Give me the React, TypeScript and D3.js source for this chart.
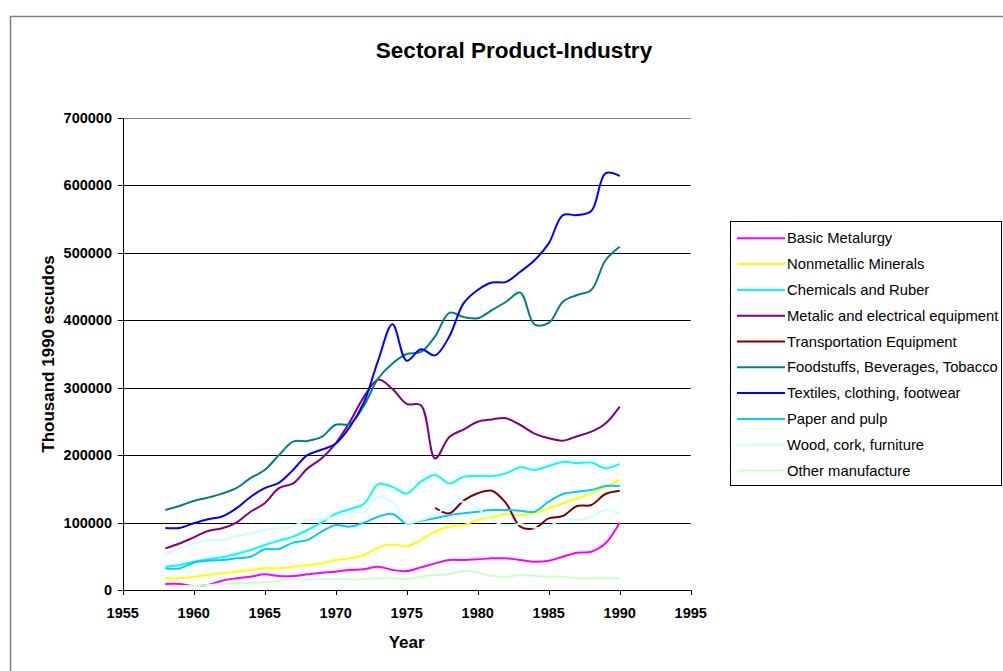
import React from "react";
import * as d3 from "d3";

const years = [1958, 1959, 1960, 1961, 1962, 1963, 1964, 1965, 1966, 1967, 1968, 1969, 1970, 1971, 1972, 1973, 1974, 1975, 1976, 1977, 1978, 1979, 1980, 1981, 1982, 1983, 1984, 1985, 1986, 1987, 1988, 1989, 1990];

const basicMetalurgy = [8900, 8900, 5900, 7400, 13800, 17300, 19800, 23200, 20800, 20800, 23200, 25700, 27200, 29700, 30700, 34600, 29700, 28000, 33600, 39500, 44500, 44500, 45500, 47000, 47000, 44500, 42000, 43500, 49400, 55300, 56800, 69200, 99800];
const nonmetallic = [17300, 17300, 19800, 22200, 24700, 27200, 29700, 32100, 32100, 34600, 37000, 39500, 44500, 47000, 51900, 63300, 67500, 65000, 74100, 86500, 93900, 96400, 103800, 107800, 112700, 111200, 113700, 121200, 128600, 136000, 143400, 153200, 163100];
const chemicals = [34600, 37000, 42000, 45500, 48500, 53400, 59300, 66700, 73100, 79100, 89000, 100000, 113000, 120000, 128000, 157000, 153000, 143000, 160600, 170500, 158000, 168000, 169000, 169000, 173000, 182000, 178000, 184000, 190000, 188000, 189000, 180500, 187000];
const metalic = [61800, 69000, 78000, 87500, 91500, 100000, 116000, 128600, 151000, 158000, 180000, 195000, 217500, 249600, 286700, 312000, 298000, 276000, 274000, 195000, 227000, 238000, 249600, 253000, 254600, 244700, 232000, 225000, 221500, 228000, 234800, 247000, 272000];
const transport = [null, null, null, null, null, null, null, null, null, null, null, null, null, null, null, null, null, null, null, 122000, 113700, 132500, 143400, 147300, 128600, 93900, 91500, 106300, 109700, 124600, 126000, 142400, 147300];
const foodstuffs = [118600, 124600, 132000, 137000, 143000, 151000, 166000, 178000, 200000, 220000, 221000, 227000, 245000, 246000, 274000, 314000, 336000, 350000, 353000, 376000, 411000, 405000, 403000, 415000, 427500, 441000, 394000, 396000, 427500, 437500, 445000, 489000, 509000];
const textiles = [92000, 92000, 99000, 105000, 109000, 121000, 138000, 151000, 159000, 178000, 200000, 208000, 217000, 242000, 279000, 341000, 394000, 340000, 357000, 348000, 376000, 425000, 445000, 456000, 457000, 472000, 489000, 514000, 556000, 556000, 562000, 618000, 614000];
const paper = [32000, 32000, 40500, 43500, 44500, 47000, 49400, 60300, 60800, 70200, 74000, 86500, 96400, 94000, 100000, 108700, 112700, 98900, 102800, 106300, 111200, 113700, 116100, 118600, 118600, 117600, 116100, 131000, 142400, 145800, 148300, 154200, 154200];
const wood = [53400, 61800, 69200, 74000, 74000, 80000, 84000, 89000, 91500, 95000, 103800, 104800, 108700, 114700, 116100, 138000, 130000, 100000, 103800, 111200, 126000, 131000, 121200, 103800, 95000, 97900, 92400, 93900, 106300, 103800, 108700, 118600, 113700];
const other = [5900, 5900, 5900, 7400, 8900, 9900, 10900, 11400, 13800, 15800, 15800, 15800, 15800, 15800, 15800, 17300, 17300, 16000, 19800, 22200, 23700, 28700, 25700, 20800, 19800, 22200, 20800, 19800, 19800, 17300, 17300, 17300, 17300];

const seriesNames = [
  "Basic Metalurgy",
  "Nonmetallic Minerals",
  "Chemicals and Ruber",
  "Metalic and electrical equipment",
  "Transportation Equipment",
  "Foodstuffs, Beverages, Tobacco",
  "Textiles, clothing, footwear",
  "Paper and pulp",
  "Wood, cork, furniture",
  "Other manufacture",
];
const seriesColors = ["#FF00FF", "#FFFF00", "#00FFFF", "#800080", "#800000", "#008080", "#0000FF", "#00CCFF", "#CCFFFF", "#CCFFCC"];
const seriesValues = [basicMetalurgy, nonmetallic, chemicals, metalic, transport, foodstuffs, textiles, paper, wood, other];

const xTicks = [1955, 1960, 1965, 1970, 1975, 1980, 1985, 1990, 1995];
const yTicks = [0, 100000, 200000, 300000, 400000, 500000, 600000, 700000];

const FONT = "'Liberation Sans', Arial, sans-serif";

export default function App() {
  const x = d3.scaleLinear().domain([1955, 1995]).range([122.7, 690.7]);
  const y = d3.scaleLinear().domain([0, 700000]).range([590, 118]);

  const line = d3
    .line<[number, number | null]>()
    .defined((d) => d[1] !== null)
    .x((d) => x(d[0]))
    .y((d) => y(d[1] as number))
    .curve(d3.curveCatmullRom.alpha(0.5));

  const legendTop = 238.3;
  const legendStep = 25.8;

  return (
    <svg
      width={1003}
      height={671}
      style={{ position: "absolute", left: 0, top: 0, background: "#fff" }}
      fontFamily={FONT}
    >
      <rect x={0} y={0} width={1003} height={671} fill="#fff" />
      <path d="M10.5,671 L10.5,16.5 L1003,16.5" fill="none" stroke="#808080" strokeWidth={1.5} />

      <text x={514} y={58} textAnchor="middle" fontSize={22.5} fontWeight="bold" fill="#000">
        Sectoral Product-Industry
      </text>

      {/* gridlines */}
      {yTicks.filter((t) => t > 0).map((t) => (
        <line
          key={"g" + t}
          x1={x(1955)}
          x2={x(1995)}
          y1={Math.round(y(t)) + 0.5}
          y2={Math.round(y(t)) + 0.5}
          stroke={t === 700000 ? "#808080" : "#000"}
          strokeWidth={1}
        />
      ))}

      {/* axes */}
      <line x1={Math.round(x(1955)) + 0.5} x2={Math.round(x(1955)) + 0.5} y1={y(700000)} y2={y(0)} stroke="#000" />
      <line x1={x(1955)} x2={x(1995)} y1={Math.round(y(0)) + 0.5} y2={Math.round(y(0)) + 0.5} stroke="#000" />
      {yTicks.map((t) => (
        <g key={"y" + t}>
          <line x1={x(1955) - 5} x2={x(1955)} y1={Math.round(y(t)) + 0.5} y2={Math.round(y(t)) + 0.5} stroke="#000" />
          <text x={112} y={y(t) + 5} textAnchor="end" fontSize={14.5} fontWeight="bold" fill="#000">
            {t}
          </text>
        </g>
      ))}
      {xTicks.map((t) => (
        <g key={"x" + t}>
          <line x1={Math.round(x(t)) + 0.5} x2={Math.round(x(t)) + 0.5} y1={y(0)} y2={y(0) + 5} stroke="#000" />
          <text x={x(t)} y={618} textAnchor="middle" fontSize={14.5} fontWeight="bold" fill="#000">
            {t}
          </text>
        </g>
      ))}

      <text x={(x(1955) + x(1995)) / 2} y={648} textAnchor="middle" fontSize={17} fontWeight="bold" fill="#000">
        Year
      </text>
      <text
        transform={`translate(54, ${(y(0) + y(700000)) / 2}) rotate(-90)`}
        textAnchor="middle"
        fontSize={17}
        fontWeight="bold"
        fill="#000"
      >
        Thousand 1990 escudos
      </text>

      {/* series */}
      {seriesValues.map((vals, i) => (
        <path
          key={"s" + i}
          d={line(years.map((yr, j) => [yr, vals[j]] as [number, number | null])) || ""}
          fill="none"
          stroke={seriesColors[i]}
          strokeWidth={2}
          strokeLinejoin="round"
        />
      ))}

      {/* legend */}
      <rect x={730.5} y={221.5} width={271} height={264} fill="#fff" stroke="#000" strokeWidth={1} />
      {seriesNames.map((name, i) => {
        const cy = legendTop + i * legendStep;
        return (
          <g key={"l" + i}>
            <line x1={737} x2={785} y1={cy} y2={cy} stroke={seriesColors[i]} strokeWidth={2} />
            <text x={787} y={cy + 5} fontSize={14.8} fill="#000">
              {name}
            </text>
          </g>
        );
      })}
    </svg>
  );
}
